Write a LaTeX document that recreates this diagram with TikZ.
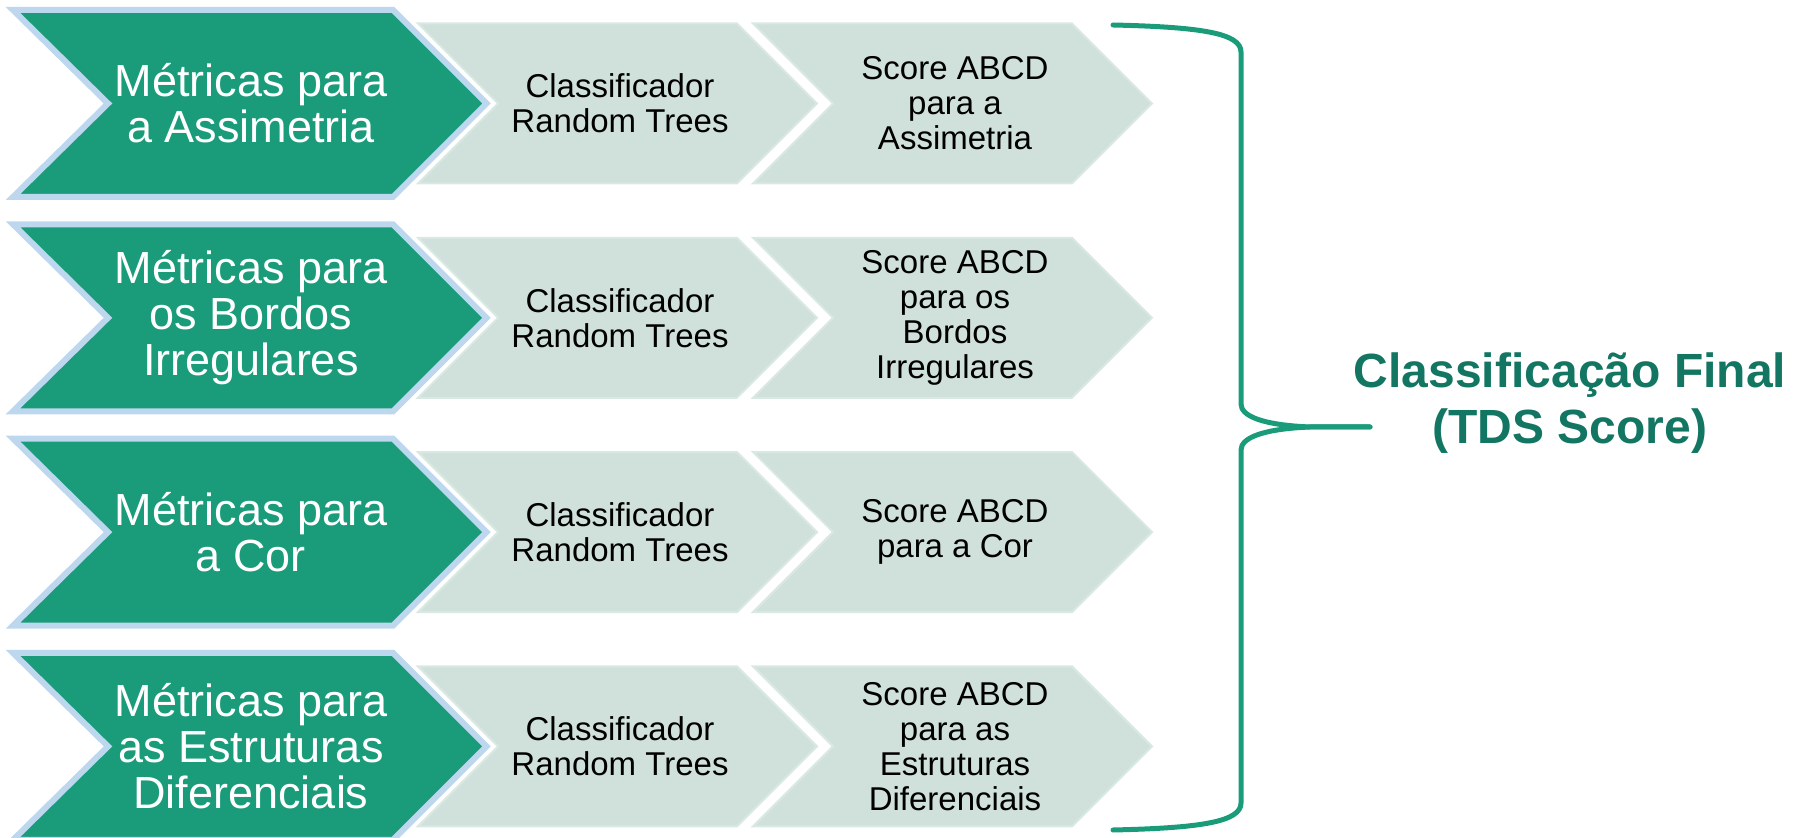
\documentclass[tikz,border=0pt]{standalone}
\usepackage{fontspec}
\setmainfont{Liberation Sans}
\definecolor{tealg}{HTML}{1A9C7B}
\definecolor{bordblue}{HTML}{BDD7EE}
\definecolor{greyf}{HTML}{D0E1DB}
\definecolor{greyb}{HTML}{DAE8E3}
\definecolor{darkg}{HTML}{137662}
\begin{document}
\begin{tikzpicture}[x=0.5pt,y=-0.5pt,
  greenchev/.style={draw=bordblue, line width=3pt, line join=miter, fill=tealg},
  greychev/.style={draw=greyb, line width=1pt, line join=miter, fill=greyf},
  metr/.style={text=white, align=center, font=\fontsize{22.5}{23}\selectfont},
  grt/.style={text=black, align=center, font=\fontsize{16.5}{17.5}\selectfont},
  finaltxt/.style={text=darkg, align=center, font=\bfseries\fontsize{24}{28}\selectfont},
  bracestyle/.style={draw=tealg, line width=2.5pt, line cap=round, line join=round}
]
\useasboundingbox (0,0) rectangle (1798,838);
\foreach \yc in {103.5, 317.8, 532.1, 746.4} {
  \path[greychev] (418,\yc-80) -- (737,\yc-80) -- (817,\yc) -- (737,\yc+80) -- (418,\yc+80) -- (498,\yc) -- cycle;
  \path[greychev] (753,\yc-80) -- (1072,\yc-80) -- (1152,\yc) -- (1072,\yc+80) -- (753,\yc+80) -- (833,\yc) -- cycle;
  \path[greenchev] (13,\yc-93.5) -- (393,\yc-93.5) -- (486.5,\yc) -- (393,\yc+93.5) -- (13,\yc+93.5) -- (108,\yc) -- cycle;
}
% row 1
\node[metr] (m1) at (251,103.5) {Métricas para\\a Assimetria};
\node[grt] (c1) at (620,103.5) {Classificador\\Random Trees};
\node[grt] (s1) at (955,103.5) {Score ABCD\\para a\\Assimetria};
% row 2
\node[metr] (m2) at (251,317.8) {Métricas para\\os Bordos\\Irregulares};
\node[grt] (c2) at (620,317.8) {Classificador\\Random Trees};
\node[grt] (s2) at (955,317.8) {Score ABCD\\para os\\Bordos\\Irregulares};
% row 3
\node[metr] (m3) at (251,532.1) {Métricas para\\a Cor};
\node[grt] (c3) at (620,532.1) {Classificador\\Random Trees};
\node[grt] (s3) at (955,532.1) {Score ABCD\\para a Cor};
% row 4
\node[metr] (m4) at (251,746.4) {Métricas para\\as Estruturas\\Diferenciais};
\node[grt] (c4) at (620,746.4) {Classificador\\Random Trees};
\node[grt] (s4) at (955,746.4) {Score ABCD\\para as\\Estruturas\\Diferenciais};
% brace
\coordinate (btop) at (1113,25);
\coordinate (bbot) at (1113,830);
\coordinate (cusp) at (1370,427);
\path[bracestyle] (btop) .. controls (1200,27) and (1241,33) .. (1241,52) -- (1241,404)
   .. controls (1241,416) and (1262,425) .. (1310,427) -- (cusp);
\path[bracestyle] (cusp) -- (1310,427) .. controls (1262,429) and (1241,438) .. (1241,450)
   -- (1241,803) .. controls (1241,822) and (1200,828) .. (bbot);
% final label
\node[finaltxt] (final) at (1570,403) {Classificação Final\\(TDS Score)};
\end{tikzpicture}
\end{document}
